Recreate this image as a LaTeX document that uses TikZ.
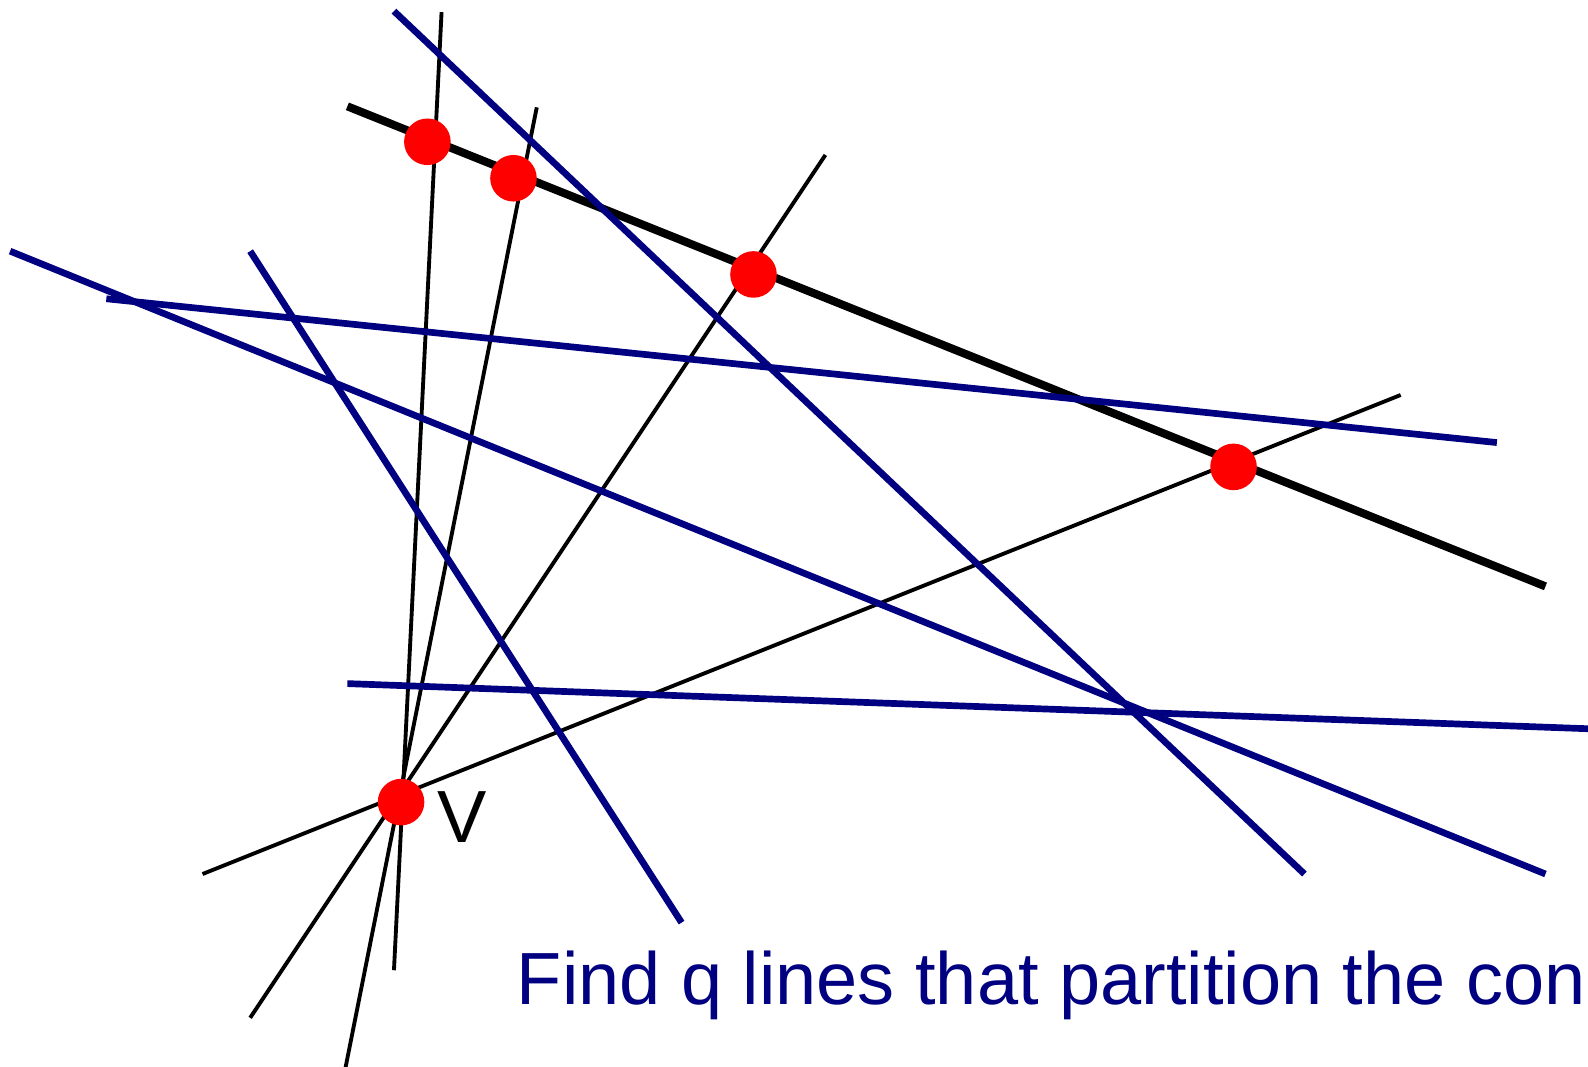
\documentclass[tikz,border=0pt]{standalone}
\usepackage{fontspec}
\setmainfont{Liberation Sans}
\definecolor{navy}{RGB}{0,0,128}
\begin{document}
\begin{tikzpicture}[x=0.5pt,y=-0.5pt,
  thinline/.style={black,line width=1.9pt},
  blueline/.style={navy,line width=3.3pt},
  thickline/.style={black,line width=4pt},
  dot/.style={circle,fill=red,inner sep=0pt,minimum size=23pt},
  lbl/.style={inner sep=0pt,anchor=base west,font=\fontsize{36.5}{40}\selectfont}]
\clip (0,0) rectangle (1568,1053);
% lines through v
\draw[thinline] (436,12) -- (389,958);
\draw[thinline] (530,106) -- (340,1060);
\draw[thinline] (815,153) -- (247,1005);
\draw[thinline] (1383,390) -- (200,863);
% the thick line
\draw[thickline] (343,105) -- (1526,579);
% the q lines
\draw[blueline] (10,248) -- (1526,863);
\draw[blueline] (105,295) -- (1478,437);
\draw[blueline] (247,248) -- (673,911);
\draw[blueline] (389,11) -- (1288,863);
\draw[blueline] (343,675) -- (1580,720);
% points
\node[dot] (p1) at (422,140) {};
\node[dot] (p2) at (507,176) {};
\node[dot] (p3) at (744,271) {};
\node[dot] (p4) at (1218,461) {};
\node[dot] (v) at (396,792) {};
\node[lbl] (vlabel) at (432,832) {V};
\node[lbl,text=navy] (task) at (510,992) {Find q lines that partition the con};
\end{tikzpicture}
\end{document}
